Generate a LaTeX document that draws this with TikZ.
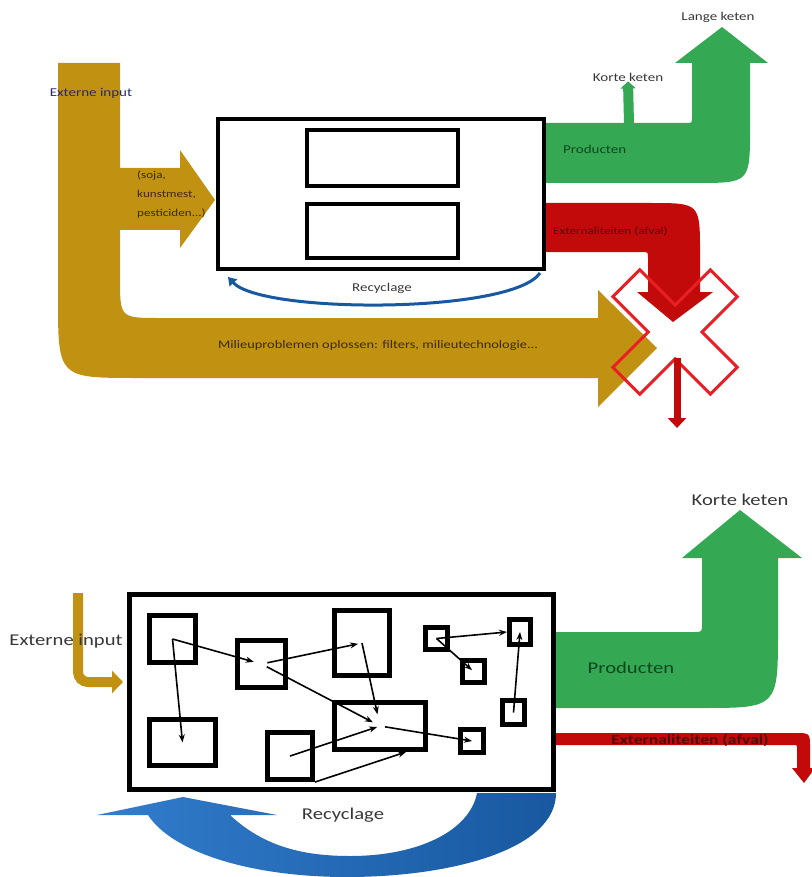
\documentclass[tikz,border=0pt]{standalone}
\usepackage{fontspec}
\setmainfont{Carlito}[FakeStretch=1.25]
\usetikzlibrary{arrows.meta}

\newlength{\du}
\setlength{\du}{1pt}

\definecolor{mustard}{RGB}{193,146,18}
\definecolor{prodgreen}{RGB}{52,168,83}
\definecolor{extred}{RGB}{194,10,10}
\definecolor{crossred}{RGB}{232,32,38}
\definecolor{recblue}{RGB}{50,125,205}
\definecolor{recbluedark}{RGB}{24,88,160}
\definecolor{inktext}{RGB}{55,55,55}
\definecolor{navytext}{RGB}{40,40,105}
\definecolor{browntext}{RGB}{60,42,5}
\definecolor{greentext}{RGB}{12,72,30}
\definecolor{redtext}{RGB}{85,8,8}

\tikzset{
  goldflow/.style={fill=mustard},
  greenflow/.style={fill=prodgreen},
  redflow/.style={fill=extred},
  unitbox/.style={draw=black, fill=white, line width=5\du, inner sep=0pt},
  link/.style={draw=black, line width=1.6\du, -{Stealth[length=8pt,width=6pt]}},
  lbl/.style={inner sep=0pt, text=inktext, font=\fontsize{12}{14}\selectfont},
  biglbl/.style={inner sep=0pt, text=inktext, font=\fontsize{16.5}{19}\selectfont},
  crossline/.style={draw=crossred, line width=3\du, line join=miter}
}

\begin{document}
\begin{tikzpicture}[x=\du,y=-\du]
\useasboundingbox (0,0) rectangle (811,877);

% bovenste schema
\fill[goldflow] (58,63) -- (120,63) -- (120,168) -- (180,168) -- (180,150) -- (215,200)
  -- (180,248) -- (180,230) -- (120,230) -- (120,278) .. controls (120,318) .. (160,318)
  -- (598,318) -- (598,290) -- (657,348) -- (598,407) -- (598,378) -- (138,378)
  .. controls (58,378) .. (58,298) -- cycle;
\fill[greenflow] (545,123) -- (686,123) .. controls (692,123) .. (692,117) -- (692,63)
  -- (675,63) -- (722,27) -- (768,63) -- (750,63) -- (750,128)
  .. controls (750,183) .. (695,183) -- (545,183) -- cycle;
\fill[redflow] (546,203) -- (650,203) .. controls (700,203) .. (700,253) -- (700,292)
  -- (713,292) -- (673,322) -- (637,292) -- (648,292) -- (648,258)
  .. controls (648,252) .. (642,252) -- (546,252) -- cycle;

\node[unitbox, line width=4.5\du, minimum width=326\du, minimum height=150\du] (bedrijf) at (381,194) {};
\node[unitbox, line width=4\du, minimum width=151\du, minimum height=56\du] (deel1) at (382.5,158) {};
\node[unitbox, line width=4\du, minimum width=151\du, minimum height=54\du] (deel2) at (382.5,231) {};

\coordinate (recA) at (540,273);
\coordinate (recB) at (228,277);
\draw[recbluedark, line width=3\du, -{Triangle[width=10pt,length=8pt]}]
  (recA) .. controls (512,314) and (262,314) .. (recB);

\node[lbl] (kort1) at (628,77) {Korte keten};
\node[lbl] (lang1) at (718,17) {Lange keten};
\coordinate (kortA) at (629,124);
\draw[prodgreen, line width=10\du, -{Triangle[width=15pt,length=7pt]}] (kortA) -- (kort1.south);

% kruis
\draw[crossline, shift={(675,332)}, rotate=45] (-19,-69) -- (19,-69) -- (19,-19) -- (69,-19)
  -- (69,19) -- (19,19) -- (19,69) -- (-19,69) -- (-19,19) -- (-69,19) -- (-69,-19)
  -- (-19,-19) -- cycle;
\coordinate (restA) at (677,358);
\coordinate (restB) at (677,428);
\draw[extred, line width=7\du, -{Triangle[width=18pt,length=10pt]}] (restA) -- (restB);

\node[lbl, text=navytext] (ext1) at (91,93) {Externe input};
\node[lbl, text=browntext, anchor=north west, align=left, font=\fontsize{10.5}{19}\selectfont]
  (soja) at (137,171) {(soja,\\kunstmest,\\pesticiden...)};
\node[lbl, text=greentext, anchor=west] (prod1) at (563,149) {Producten};
\node[lbl, text=redtext, anchor=west, font=\fontsize{10.5}{12}\selectfont] (afval1) at (553,231) {Externaliteiten (afval)};
\node[lbl] (rec1) at (382,288) {Recyclage};
\node[lbl, text=browntext, font=\fontsize{11.5}{14}\selectfont] (milieu) at (378,345)
  {Milieuproblemen oplossen: filters, milieutechnologie...};

% onderste schema
\fill[greenflow] (556,632) -- (694,632) .. controls (702,632) .. (702,624) -- (702,558)
  -- (682,558) -- (740,510) -- (802,558) -- (778,558) -- (778,630)
  .. controls (778,708) .. (700,708) -- (556,708) -- cycle;
\fill[redflow] (556,733) -- (795,733) .. controls (810,733) .. (810,748) -- (810,768)
  -- (815,768) -- (804,783) -- (792,768) -- (797,768) -- (797,748)
  .. controls (797,745) .. (794,745) -- (556,745) -- cycle;
\shade[left color=recblue, right color=recbluedark]
  (477,793) -- (556,793) .. controls (556,850) and (450,877) .. (347,877)
  .. controls (250,877) and (172,852) .. (148,815) -- (97,815) -- (183,797) -- (277,815)
  -- (230,815) .. controls (262,845) and (300,856) .. (350,856)
  .. controls (420,856) and (470,830) .. (477,793) -- cycle;

\coordinate (inA) at (78,593);
\coordinate (inB) at (78,682);
\coordinate (inC) at (123,682);
\draw[mustard, line width=10\du, rounded corners=10\du, -{Triangle[width=22pt,length=11pt]}]
  (inA) -- (inB) -- (inC);

\node[unitbox, minimum width=424\du, minimum height=195\du] (bedrijf2) at (341.5,692) {};

\node[unitbox, minimum width=46\du, minimum height=47\du] (bxA) at (172.5,639) {};
\node[unitbox, minimum width=48\du, minimum height=47\du] (bxB) at (261.5,664) {};
\node[unitbox, minimum width=55\du, minimum height=65\du] (bxC) at (362,643) {};
\node[unitbox, minimum width=91\du, minimum height=47\du] (bxD) at (380,726) {};
\node[unitbox, minimum width=66\du, minimum height=46\du] (bxE) at (182.5,742.5) {};
\node[unitbox, minimum width=45\du, minimum height=47\du] (bxF) at (290,756) {};
\node[unitbox, minimum width=22\du, minimum height=22\du] (bxG) at (436.5,638.5) {};
\node[unitbox, minimum width=22\du, minimum height=22\du] (bxH) at (473.5,671.5) {};
\node[unitbox, minimum width=21\du, minimum height=25\du] (bxI) at (520,632) {};
\node[unitbox, minimum width=22\du, minimum height=24\du] (bxJ) at (513.5,712.5) {};
\node[unitbox, minimum width=23\du, minimum height=23\du] (bxK) at (472,741) {};

\draw[link, shorten >=8\du] (bxA.center) -- (bxB.center);
\draw[link] (bxA.center) -- (bxE.center);
\draw[link, shorten <=6\du, shorten >=4\du] (bxB.center) -- (bxC.center);
\draw[link, shorten <=6\du, shorten >=8\du] (bxB.center) -- (bxD.center);
\draw[link, shorten >=12\du] (bxC.center) -- (bxD.center);
\draw[link, shorten <=5\du] (bxD.center) -- (bxK.center);
\draw[link, shorten >=3\du] (bxF.center) -- (bxD.center);
\draw[link] (bxF.south east) -- (bxD.-45);
\draw[link] (bxG.center) -- (bxI.west);
\draw[link, shorten >=2\du] (bxG.center) -- (bxH.center);
\draw[link] (bxJ.center) -- (bxI.center);

\node[biglbl] (ext2) at (66,641) {Externe input};
\node[biglbl] (kort2) at (740,500) {Korte keten};
\node[biglbl, text=greentext] (prod2) at (631,668) {Producten};
\node[lbl, text=redtext, font=\fontsize{14}{16}\bfseries] (afval2) at (690,740) {Externaliteiten (afval)};
\node[biglbl] (rec2) at (343,815) {Recyclage};
\end{tikzpicture}
\end{document}
